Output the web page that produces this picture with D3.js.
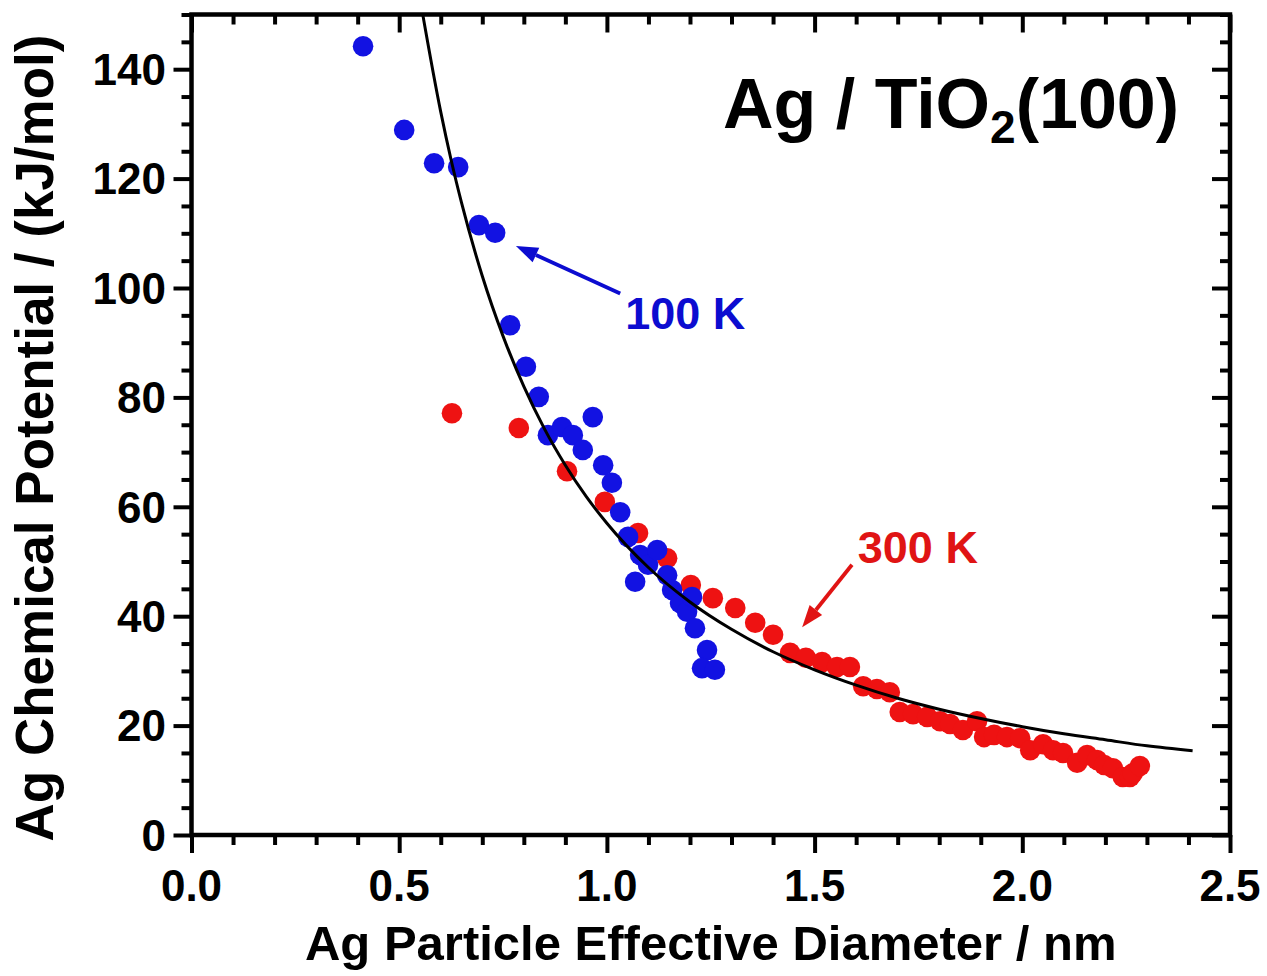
<!DOCTYPE html>
<html>
<head>
<meta charset="utf-8">
<script src="https://cdn.jsdelivr.net/npm/d3@7/dist/d3.min.js"></script>
<style>
  html, body { margin: 0; padding: 0; background: #fff; }
  svg text { font-family: "Liberation Sans", Arial, sans-serif; font-weight: bold; }
</style>
</head>
<body>
<svg id="chart" width="1267" height="976"></svg>
<script>
// Ag chemical potential vs. effective particle diameter on TiO2(100)

// 100 K series
const diam100 = [0.413, 0.512, 0.584, 0.642, 0.692, 0.731, 0.767, 0.805, 0.836, 0.858,
                 0.892, 0.918, 0.942, 0.966, 0.991, 1.012, 1.032, 1.051, 1.080, 1.099,
                 1.121, 1.068, 1.145, 1.157, 1.176, 1.193, 1.205, 1.212, 1.241, 1.229, 1.260];
const mu100   = [144.2, 128.9, 122.8, 122.1, 111.5, 110.1, 93.2, 85.6, 80.1, 73.1,
                 74.6, 73.1, 70.4, 76.4, 67.6, 64.4, 59.0, 54.5, 51.2, 49.4,
                 52.1, 46.3, 47.5, 44.8, 42.4, 40.8, 43.5, 37.8, 33.8, 30.5, 30.2];

// 300 K series
const diam300 = [0.627, 0.788, 0.904, 0.995, 1.075, 1.145, 1.202, 1.255, 1.309, 1.357,
                 1.400, 1.441, 1.479, 1.518, 1.554, 1.585, 1.617, 1.650, 1.681, 1.705,
                 1.737, 1.771, 1.802, 1.826, 1.857, 1.891, 1.908, 1.932, 1.963, 1.995,
                 2.019, 2.050, 2.074, 2.098, 2.132, 2.156, 2.180, 2.197, 2.218, 2.242,
                 2.259, 2.266, 2.283];
const mu300   = [77.1, 74.4, 66.5, 60.9, 55.2, 50.6, 45.7, 43.3, 41.5, 38.8,
                 36.6, 33.3, 32.4, 31.6, 30.7, 30.7, 27.2, 26.7, 26.1, 22.5,
                 22.1, 21.6, 20.8, 20.3, 19.2, 20.8, 17.9, 18.3, 17.9, 17.7,
                 15.5, 16.6, 15.5, 15.0, 13.2, 14.6, 13.7, 12.8, 12.2, 10.6,
                 10.6, 11.3, 12.6];

// model curve
const diamFit = [0.55, 0.60, 0.625, 0.65, 0.70, 0.75, 0.80, 0.85, 0.90, 0.95, 1.00,
                 1.10, 1.20, 1.30, 1.40, 1.50, 1.60, 1.70, 1.80, 1.90, 2.00, 2.10,
                 2.20, 2.30, 2.41];
const muFit   = [152.9, 132.2, 123.4, 115.6, 102.2, 91.2, 82.0, 74.2, 67.6, 61.9, 57.0,
                 48.9, 42.6, 37.6, 33.5, 30.2, 27.4, 25.0, 23.0, 21.3, 19.8, 18.5,
                 17.4, 16.3, 15.4];

// axis ticks
const xTicks = [0, 0.5, 1.0, 1.5, 2.0, 2.5];
const xTickLabels = ["0.0", "0.5", "1.0", "1.5", "2.0", "2.5"];
const yTicks = [0, 20, 40, 60, 80, 100, 120, 140];
const yTickLabels = ["0", "20", "40", "60", "80", "100", "120", "140"];

const blue = "#1212e2";
const red = "#ee1212";

const svg = d3.select("#chart");
const L = 191.5, R = 1230, T = 14.5, B = 835;

const x = d3.scaleLinear().domain([0, 2.5]).range([L, R]);
const y = d3.scaleLinear().domain([0, 150]).range([B, T]);

svg.append("defs").append("clipPath").attr("id", "plotClip")
  .append("rect").attr("x", L).attr("y", T).attr("width", R - L).attr("height", B - T);

// points
const plot = svg.append("g").attr("clip-path", "url(#plotClip)");
plot.append("g").selectAll("circle").data(diam300).join("circle")
  .attr("cx", d => x(d)).attr("cy", (d, i) => y(mu300[i])).attr("r", 10.3)
  .attr("fill", red);
plot.append("g").selectAll("circle").data(diam100).join("circle")
  .attr("cx", d => x(d)).attr("cy", (d, i) => y(mu100[i])).attr("r", 10.3)
  .attr("fill", blue);

// model curve
const line = d3.line().x(d => x(d[0])).y(d => y(d[1])).curve(d3.curveMonotoneX);
plot.append("path").datum(diamFit.map((d, i) => [d, muFit[i]]))
  .attr("d", line).attr("fill", "none").attr("stroke", "#000").attr("stroke-width", 3);

// axes
const xMinor = d3.range(0, 2.501, 0.1).map(v => +v.toFixed(2)).filter(v => !xTicks.some(t => Math.abs(t - v) < 1e-6));
const yMinor = d3.range(0, 150.1, 5).filter(v => v % 20 !== 0);

function styleAxis(g) {
  g.select(".domain").remove();
  g.selectAll(".tick line").attr("stroke", "#000").attr("stroke-width", 4);
  g.selectAll(".tick text").remove();
}

svg.append("g").attr("transform", `translate(0,${B})`)
  .call(d3.axisBottom(x).tickValues(xTicks).tickSize(18)).call(styleAxis);
svg.append("g").attr("transform", `translate(0,${B})`)
  .call(d3.axisBottom(x).tickValues(xMinor).tickSize(10)).call(styleAxis);
svg.append("g").attr("transform", `translate(0,${T})`)
  .call(d3.axisTop(x).tickValues(xTicks).tickSize(-18)).call(styleAxis);
svg.append("g").attr("transform", `translate(0,${T})`)
  .call(d3.axisTop(x).tickValues(xMinor).tickSize(-10)).call(styleAxis);
svg.append("g").attr("transform", `translate(${L},0)`)
  .call(d3.axisLeft(y).tickValues(yTicks).tickSize(18)).call(styleAxis);
svg.append("g").attr("transform", `translate(${L},0)`)
  .call(d3.axisLeft(y).tickValues(yMinor).tickSize(10)).call(styleAxis);
svg.append("g").attr("transform", `translate(${R},0)`)
  .call(d3.axisRight(y).tickValues(yTicks).tickSize(-18)).call(styleAxis);
svg.append("g").attr("transform", `translate(${R},0)`)
  .call(d3.axisRight(y).tickValues(yMinor).tickSize(-10)).call(styleAxis);

// frame
svg.append("rect").attr("x", L).attr("y", T).attr("width", R - L).attr("height", B - T)
  .attr("fill", "none").attr("stroke", "#000").attr("stroke-width", 4.5);

// tick labels
svg.append("g").selectAll("text").data(xTicks).join("text")
  .attr("x", d => x(d)).attr("y", 901).attr("text-anchor", "middle")
  .attr("font-size", 44).text((d, i) => xTickLabels[i]);
svg.append("g").selectAll("text").data(yTicks).join("text")
  .attr("x", 166).attr("y", d => y(d)).attr("dy", "0.36em").attr("text-anchor", "end")
  .attr("font-size", 44).text((d, i) => yTickLabels[i]);

// axis titles
svg.append("text").attr("x", (L + R) / 2).attr("y", 960).attr("text-anchor", "middle")
  .attr("font-size", 49).text("Ag Particle Effective Diameter / nm");
svg.append("text").attr("transform", `translate(53,${438}) rotate(-90)`)
  .attr("text-anchor", "middle").attr("font-size", 53)
  .text("Ag Chemical Potential / (kJ/mol)");

// title
const title = svg.append("text").attr("x", 723).attr("y", 128).attr("font-size", 70);
title.append("tspan").text("Ag / TiO");
title.append("tspan").attr("font-size", 46).attr("dy", 15).text("2");
title.append("tspan").attr("dy", -15).text("(100)");

// annotations: label position, arrow tail and tip (data units)
const notes = [
  { text: "100 K", color: "#0c0cd0", lx: 1.044, ly: 92.5, x0: 1.032, y0: 99.0, x1: 0.781, y1: 107.7 },
  { text: "300 K", color: "#e01414", lx: 1.604, ly: 49.7, x0: 1.590, y0: 49.4, x1: 1.470, y1: 38.0 }
];
notes.forEach(n => {
  svg.append("text").attr("x", x(n.lx)).attr("y", y(n.ly)).attr("font-size", 45)
    .attr("fill", n.color).text(n.text);
  const px0 = x(n.x0), py0 = y(n.y0), px1 = x(n.x1), py1 = y(n.y1);
  const ang = Math.atan2(py1 - py0, px1 - px0);
  const hl = 22, hw = 8;
  const bx = px1 - hl * Math.cos(ang), by = py1 - hl * Math.sin(ang);
  svg.append("line").attr("x1", px0).attr("y1", py0).attr("x2", bx).attr("y2", by)
    .attr("stroke", n.color).attr("stroke-width", 3.8);
  const pts = [
    [px1, py1],
    [bx + hw * Math.sin(ang), by - hw * Math.cos(ang)],
    [bx - hw * Math.sin(ang), by + hw * Math.cos(ang)]
  ];
  svg.append("polygon").attr("points", pts.map(p => p.join(",")).join(" ")).attr("fill", n.color);
});
</script>
</body>
</html>
